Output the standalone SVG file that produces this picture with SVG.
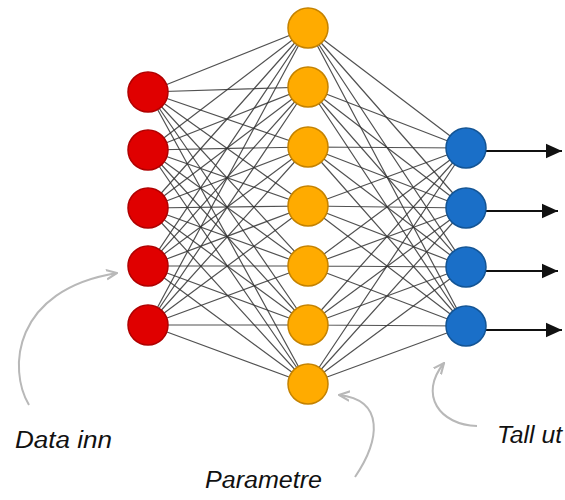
<svg xmlns="http://www.w3.org/2000/svg" width="565" height="500" viewBox="0 0 565 500">
<style>
.c{stroke:#333;stroke-width:1.2;stroke-opacity:0.85;fill:none}
.in{fill:#e00000;stroke:#b00000;stroke-width:1.5}
.hid{fill:#ffab00;stroke:#c48200;stroke-width:1.5}
.out{fill:#1a6fc8;stroke:#135494;stroke-width:1.5}
.o{stroke:#111;stroke-width:2;fill:none}
.g{stroke:#b8b8b8;stroke-width:2;fill:none}
.t{font-family:"Liberation Sans",sans-serif;font-style:italic;font-size:23px;fill:#111}
</style>
<defs>
<marker id="ah" viewBox="0 0 10 10" refX="10" refY="5" markerWidth="16" markerHeight="16" markerUnits="userSpaceOnUse" orient="auto"><path d="M0,0.5 L10,5 L0,9.5 z" fill="#111"/></marker>
<marker id="ga" viewBox="0 0 10 10" refX="9" refY="5" markerWidth="12" markerHeight="12" markerUnits="userSpaceOnUse" orient="auto"><path d="M0,1 L9,5 L0,9" fill="none" stroke="#b8b8b8" stroke-width="1.8"/></marker>
</defs>
<rect width="565" height="500" fill="#fff"/>
<g id="connectors">
<g class="c">
<path d="M148,92L308,28M148,92L308,87M148,92L308,147M148,92L308,206M148,92L308,266M148,92L308,325M148,92L308,384"/>
<path d="M148,150L308,28M148,150L308,87M148,150L308,147M148,150L308,206M148,150L308,266M148,150L308,325M148,150L308,384"/>
<path d="M148,208L308,28M148,208L308,87M148,208L308,147M148,208L308,206M148,208L308,266M148,208L308,325M148,208L308,384"/>
<path d="M148,266L308,28M148,266L308,87M148,266L308,147M148,266L308,206M148,266L308,266M148,266L308,325M148,266L308,384"/>
<path d="M148,325L308,28M148,325L308,87M148,325L308,147M148,325L308,206M148,325L308,266M148,325L308,325M148,325L308,384"/>
<path d="M308,28L466,148M308,28L466,208M308,28L466,267M308,28L466,326"/>
<path d="M308,87L466,148M308,87L466,208M308,87L466,267M308,87L466,326"/>
<path d="M308,147L466,148M308,147L466,208M308,147L466,267M308,147L466,326"/>
<path d="M308,206L466,148M308,206L466,208M308,206L466,267M308,206L466,326"/>
<path d="M308,266L466,148M308,266L466,208M308,266L466,267M308,266L466,326"/>
<path d="M308,325L466,148M308,325L466,208M308,325L466,267M308,325L466,326"/>
<path d="M308,384L466,148M308,384L466,208M308,384L466,267M308,384L466,326"/>
</g>
<g class="o" marker-end="url(#ah)">
<path d="M486,151H562"/>
<path d="M486,211H558"/>
<path d="M486,271H558"/>
<path d="M486,330H562"/>
</g>
<g class="g" marker-end="url(#ga)">
<path d="M29,405C8,370 12,290 117,273"/>
<path d="M355,477C380,440 385,400 339,395"/>
<path d="M477,426C440,425 418,395 444,363"/>
</g>
</g>
<g id="input">
<circle id="in1" class="in" cx="148" cy="92" r="20"/>
<circle id="in2" class="in" cx="148" cy="150" r="20"/>
<circle id="in3" class="in" cx="148" cy="208" r="20"/>
<circle id="in4" class="in" cx="148" cy="266" r="20"/>
<circle id="in5" class="in" cx="148" cy="325" r="20"/>
</g>
<g id="hidden">
<circle id="h1" class="hid" cx="308" cy="28" r="20"/>
<circle id="h2" class="hid" cx="308" cy="87" r="20"/>
<circle id="h3" class="hid" cx="308" cy="147" r="20"/>
<circle id="h4" class="hid" cx="308" cy="206" r="20"/>
<circle id="h5" class="hid" cx="308" cy="266" r="20"/>
<circle id="h6" class="hid" cx="308" cy="325" r="20"/>
<circle id="h7" class="hid" cx="308" cy="384" r="20"/>
</g>
<g id="output">
<circle id="o1" class="out" cx="466" cy="148" r="20"/>
<circle id="o2" class="out" cx="466" cy="208" r="20"/>
<circle id="o3" class="out" cx="466" cy="267" r="20"/>
<circle id="o4" class="out" cx="466" cy="326" r="20"/>
</g>
<g id="labels">
<text id="lbl-in" class="t" x="15" y="448" textLength="97" lengthAdjust="spacingAndGlyphs">Data inn</text>
<text id="lbl-par" class="t" x="205" y="488" textLength="117" lengthAdjust="spacingAndGlyphs">Parametre</text>
<text id="lbl-out" class="t" x="497" y="443" textLength="65" lengthAdjust="spacingAndGlyphs">Tall ut</text>
</g>
</svg>
